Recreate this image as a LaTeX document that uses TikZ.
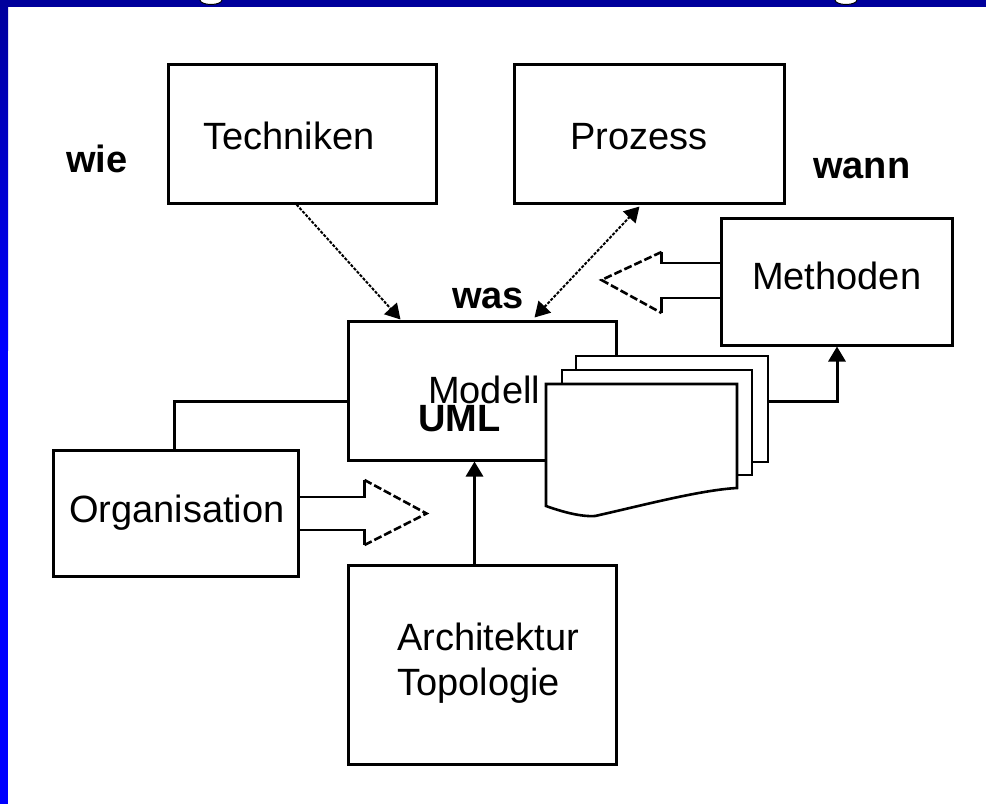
\documentclass[tikz,border=0pt]{standalone}
\usepackage{fontspec}
\setmainfont{Liberation Sans}
\usetikzlibrary{arrows.meta,calc}
\definecolor{frameDark}{HTML}{00009C}
\definecolor{frameBright}{HTML}{0000FF}

\begin{document}
\begin{tikzpicture}[x=1pt,y=-1pt,
  box/.style={draw,line width=3pt,rectangle,inner sep=0pt,fill=white},
  sheet/.style={draw,line width=2.6pt,fill=white},
  lbl/.style={inner sep=0pt,anchor=base west,font=\fontsize{38}{44}\selectfont},
  kw/.style={inner sep=0pt,anchor=base west,font=\fontsize{38}{44}\selectfont\bfseries},
  link/.style={line width=3pt},
  tip/.style={-{Triangle[width=17pt,length=15pt]}},
  dots/.style={line width=2pt,dash pattern=on 3pt off 1.5pt},
  fatline/.style={line width=2.6pt},
  fathead/.style={line width=2.6pt,dash pattern=on 8pt off 3pt},
]
\useasboundingbox (0,0) rectangle (986,804);
\fill[white] (0,0) rectangle (986,804);

% frame strips
\shade[top color=frameDark,bottom color=frameBright] (0,0) rectangle (8,350);
\fill[frameBright] (0,350) rectangle (8,804);
\fill[frameDark] (0,0) rectangle (986,7);
\draw[fill=white,line width=1pt] (200,0) arc[start angle=180,end angle=0,x radius=11,y radius=4.5];
\draw[fill=white,line width=1pt] (835,0) arc[start angle=180,end angle=0,x radius=11,y radius=4.5];

% boxes
\node[box,minimum width=268pt,minimum height=139pt] (tech) at (302,133.5) {};
\node[box,minimum width=270pt,minimum height=139pt] (proc) at (649,133.5) {};
\node[box,minimum width=231pt,minimum height=127pt] (meth) at (836.5,281.5) {};
\node[box,minimum width=268pt,minimum height=139pt] (model) at (482,390.5) {};
\node[box,minimum width=245pt,minimum height=126pt] (org) at (175.5,513) {};
\node[box,minimum width=268pt,minimum height=199pt] (arch) at (482,664.5) {};

% labels
\node[lbl] (ttech) at (203,149) {Techniken};
\node[lbl] (tproc) at (570,149) {Prozess};
\node[lbl] (tmeth) at (752,289) {Methoden};
\node[lbl] (torg) at (69,522) {Organisation};
\node[lbl] (tarch) at (397,650) {Architektur};
\node[lbl] (ttopo) at (397,695) {Topologie};
\node[lbl] (tmodel) at (428,403) {Modell};
\node[kw] (tuml) at (418,431) {UML};
\node[kw] (twie) at (66,172) {wie};
\node[kw] (twann) at (813,178) {wann};
\node[kw] (twas) at (452,308) {was};

% stack of documents
\node[sheet,rectangle,inner sep=0pt,minimum width=192pt,minimum height=106pt] (pgback) at (672,409) {};
\node[sheet,rectangle,inner sep=0pt,minimum width=190pt,minimum height=105pt] (pgmid) at (657,422.5) {};
\draw[sheet] (546,384) -- (737,384) -- (737,488)
  .. controls (700,490) and (640,506) .. (595,516)
  .. controls (580,517) and (560,511) .. (546,506) -- cycle;
\coordinate (pgfront) at (546,384);

% connectors
\draw[dots,tip] ($(tech.south west)+(130,0)$) -- ($(model.north west)+(54,0)$);
\draw[dots,{Triangle[width=17pt,length=15pt]}-{Triangle[width=17pt,length=15pt]}]
  ($(model.north west)+(188,-2)$) -- ($(proc.south west)+(127,2)$);
\draw[link] ($(org.north west)+(123,0)$) |- ($(model.west)+(0,10.5)$);
\draw[link,tip] ($(arch.north west)+(128,0)$) -- ($(model.south west)+(128,0)$);
\draw[link,tip] ($(pgback.east)+(0,-8)$) -| ($(meth.south)+(0.5,0)$);

% wide arrow from Methoden
\draw[fatline] ($(meth.west)+(0,-18.5)$) -- ++(-58,0) coordinate (mA) -- ++(0,-11) coordinate (mB);
\draw[fatline] ($(meth.west)+(0,16.5)$) -- ++(-58,0) coordinate (mC) -- ++(0,15) coordinate (mD);
\draw[fathead] (mB) -- ($(mA)!0.5!(mC)+(-60,-0.5)$) -- (mD);

% wide arrow from Organisation
\draw[fatline] ($(org.east)+(0,-16)$) -- ++(65,0) coordinate (oA) -- ++(0,-17) coordinate (oB);
\draw[fatline] ($(org.east)+(0,17)$) -- ++(65,0) coordinate (oC) -- ++(0,15) coordinate (oD);
\draw[fathead] (oB) -- ($(oA)!0.5!(oC)+(62,0)$) -- (oD);
\end{tikzpicture}
\end{document}
